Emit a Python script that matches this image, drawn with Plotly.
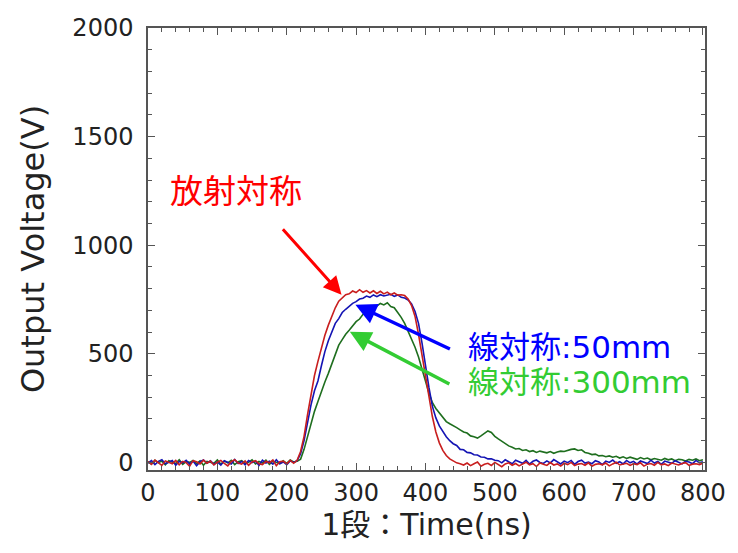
import plotly.graph_objects as go

# time grid (ns), 5 ns sampling
time_ns = list(range(0, 805, 5))

# 放射対称 (red)
radial = [4,-9,11,-2,-14,7,2,-6,9,-11,5,-1,-18,8,3,-7,10,-4,6,-12,1,9,-5,-16,4,12,-3,-8,7,-13,2,8,-6,-10,5,-2,11,-15,3,6,-7,9,-4,
          10,50,120,220,320,400,465,530,585,632,676,712,742,758,772,776,789,782,795,783,791,780,790,778,788,776,784,772,780,770,
          772,768,752,722,672,590,495,400,300,210,140,90,55,32,16,6,-2,-6,
          -12,-3,-15,-6,2,-18,-9,-4,-14,0,-10,-20,-7,-2,-13,-5,-16,-8,1,-11,-6,-19,-3,-9,-14,-1,-12,-7,-17,-4,
          -10,0,-15,-8,-5,-13,-2,-18,-9,-6,-11,-3,-16,-7,1,-12,-9,-4,-14,-6,-10,-2,-17,-8,-5,-13,0,-11,-7,-15,
          -3,-9,-12,-5,-1,-14,-8,-6,-10,-4]

# 線対称:50mm (blue)
line50 = [-3,8,-10,5,12,-6,1,9,-13,4,-2,10,-8,6,-15,3,11,-4,7,-9,2,-12,8,0,-7,13,-5,4,-11,9,-1,6,-14,10,-3,5,-8,12,-6,2,-10,7,0,
          8,40,100,185,265,330,375,445,510,560,605,640,662,690,705,718,732,740,752,756,766,760,771,763,772,766,770,774,764,771,
          760,757,748,730,695,640,550,440,345,258,205,168,140,118,100,86,78,60,58,46,44,35,34,25,24,16,17,10,
          8,-2,12,1,-6,10,3,-4,9,-8,5,11,0,-5,7,-3,13,2,-7,6,-1,9,-9,4,10,-3,1,-6,8,2,
          -10,6,0,11,-4,3,-7,9,-2,5,-8,7,1,-5,10,-3,4,-9,6,0,-4,8,-1,-7,5,2,-6,9,-2,3]

# 線対称:300mm (green)
line300 = [2,-7,10,-1,6,-11,8,3,-5,12,-9,4,0,9,-6,7,-13,5,1,-4,11,-8,6,-2,9,-10,3,8,-5,0,12,-7,4,-3,10,-9,6,1,-6,8,-4,11,2,5,
           15,60,120,185,235,280,330,370,410,455,500,540,565,590,608,630,648,660,682,690,702,715,720,732,725,735,718,712,690,668,
           640,605,572,530,485,435,375,320,275,248,228,210,188,178,170,160,150,140,135,122,118,112,122,132,145,138,120,
           108,96,88,76,70,62,64,55,58,50,54,46,52,48,44,50,42,48,52,50,56,60,62,55,58,46,42,36,38,30,
           32,26,30,24,28,20,26,18,24,20,14,22,16,20,12,18,14,10,18,12,16,8,14,12,6,14,10,16,8,12]

series_names = ["放射対称", "線対称:50mm", "線対称:300mm"]
line_colors = ["#c81e1e", "#1414b4", "#1e6e1e"]
label_colors = ["#ff0000", "#0000ff", "#33cc33"]

x_ticks = [0, 100, 200, 300, 400, 500, 600, 700, 800]
y_ticks = [0, 500, 1000, 1500, 2000]

FONT = "DejaVu Sans, Noto Sans CJK JP, sans-serif"

fig = go.Figure()
for vals, col, name in [(line300, line_colors[2], series_names[2]),
                        (line50, line_colors[1], series_names[1]),
                        (radial, line_colors[0], series_names[0])]:
    fig.add_trace(go.Scatter(x=time_ns, y=vals, mode="lines", name=name,
                             line=dict(color=col, width=1.6)))

axis_common = dict(showline=True, linecolor="#555555", linewidth=1.5, mirror="ticks",
                   ticks="inside", tickcolor="#555555", ticklen=7, tickwidth=1.2,
                   showgrid=False, zeroline=False,
                   tickfont=dict(family=FONT, size=24, color="#222222"))

fig.update_layout(
    width=738, height=553,
    margin=dict(l=148, r=28, t=28, b=83),
    paper_bgcolor="white", plot_bgcolor="white",
    showlegend=False,
    font=dict(family=FONT, color="#222222"),
    xaxis=dict(range=[0, 803], tickvals=x_ticks, ticktext=[str(v) for v in x_ticks],
               minor=dict(dtick=20, ticks="inside", ticklen=4, tickcolor="#555555"),
               title=dict(text="1段：Time(ns)", font=dict(family=FONT, size=30, color="#222222"), standoff=7),
               **axis_common),
    yaxis=dict(range=[-35, 2000], tickvals=y_ticks, ticktext=[str(v) for v in y_ticks],
               ticklabelstandoff=8,
               minor=dict(dtick=100, ticks="inside", ticklen=4, tickcolor="#555555"),
               title=dict(text="Output Voltage(V)", font=dict(family=FONT, size=32, color="#222222"), standoff=18),
               **axis_common),
)

# labels
fig.add_annotation(x=127, y=1246, text=series_names[0], showarrow=False, xanchor="center",
                   font=dict(family=FONT, size=33, color=label_colors[0]))
fig.add_annotation(x=459, y=530, text=series_names[1], showarrow=False, xanchor="left",
                   font=dict(family=FONT, size=31, color=label_colors[1]))
fig.add_annotation(x=459, y=368, text=series_names[2], showarrow=False, xanchor="left",
                   font=dict(family=FONT, size=31, color=label_colors[2]))

# arrows
fig.add_annotation(x=279, y=772, ax=-60, ay=-67, text="", showarrow=True,
                   arrowhead=2, arrowsize=1.2, arrowwidth=3, arrowcolor=label_colors[0])
fig.add_annotation(x=299, y=726, ax=96, ay=45, text="", showarrow=True,
                   arrowhead=2, arrowsize=1.2, arrowwidth=3.5, arrowcolor=label_colors[1])
fig.add_annotation(x=291, y=601, ax=101, ay=53, text="", showarrow=True,
                   arrowhead=2, arrowsize=1.2, arrowwidth=3.5, arrowcolor=label_colors[2])

fig.write_html("out.html")
